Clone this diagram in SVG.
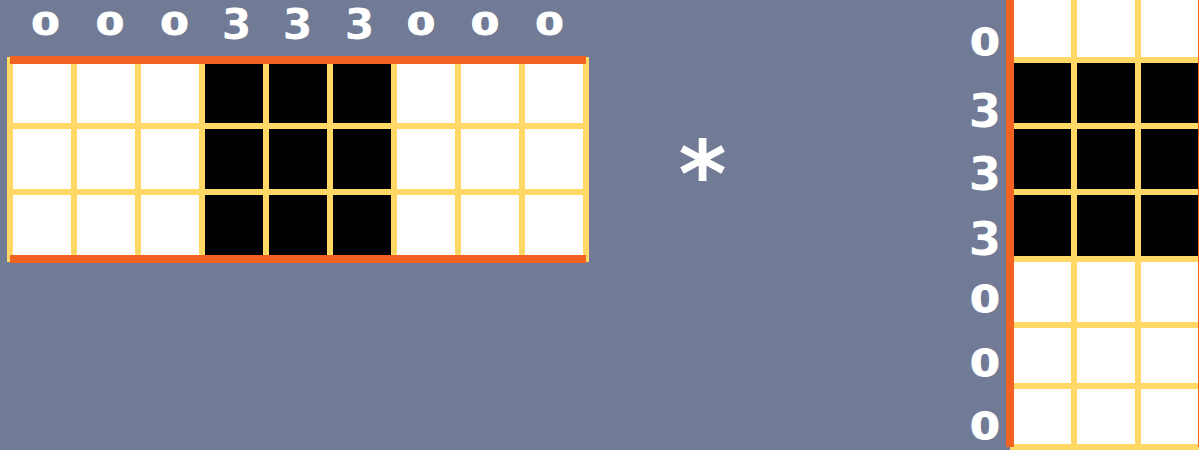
<svg xmlns="http://www.w3.org/2000/svg" width="1199" height="450" viewBox="0 0 1199 450">
<style>
.yl{stroke:#FFD865;stroke-width:6;fill:none}
.or{stroke:#F26322;stroke-width:8;fill:none}
.n{font-family:"DejaVu Sans",sans-serif;font-weight:bold;fill:#FFFFFF;text-anchor:middle}
.z{font-size:31.5px;stroke:#FFFFFF;stroke-width:1}
.t{font-size:42.5px}
.zr{font-size:37px;stroke:#FFFFFF;stroke-width:1}
.tr{font-size:46.5px}
</style>
<rect width="1199" height="450" fill="#717B96"/>
<g id="left-matrix">
<rect x="10" y="60" width="576" height="199" fill="#FFFFFF"/>
<rect x="202" y="60" width="192" height="199" fill="#000000"/>
<path class="yl" d="M10 57V262M74 57V262M138 57V262M202 57V262M266 57V262M330 57V262M394 57V262M458 57V262M522 57V262M586 57V262M10 126H586M10 192H586"/>
<path class="or" d="M10 60H586M10 259H586"/>
</g>
<g id="left-labels">
<text class="n z" transform="translate(45.5 35) scale(1.3 1)">0</text>
<text class="n z" transform="translate(110 35) scale(1.3 1)">0</text>
<text class="n z" transform="translate(174.5 35) scale(1.3 1)">0</text>
<text class="n t" x="236.5" y="39">3</text>
<text class="n t" x="297.5" y="39">3</text>
<text class="n t" x="359.5" y="39">3</text>
<text class="n z" transform="translate(421 35) scale(1.3 1)">0</text>
<text class="n z" transform="translate(485 35) scale(1.3 1)">0</text>
<text class="n z" transform="translate(549.5 35) scale(1.3 1)">0</text>
</g>
<g id="operator">
<text x="702.5" y="207" font-family="DejaVu Sans,sans-serif" font-size="92" font-weight="bold" fill="#FFFFFF" text-anchor="middle">*</text>
</g>
<g id="right-matrix">
<rect x="1010" y="0" width="189" height="447" fill="#FFFFFF"/>
<rect x="1010" y="60" width="189" height="199" fill="#000000"/>
<path class="yl" d="M1074 0V450M1138 0V450M1010 60H1199M1010 126H1199M1010 192H1199M1010 259H1199M1010 325H1199M1010 386H1199M1010 447H1199"/>
<path class="or" d="M1010 0V447M1202 0V447"/>
</g>
<g id="right-labels">
<text class="n zr" transform="translate(985 55) scale(1.16 1)">0</text>
<text class="n tr" x="985" y="127">3</text>
<text class="n tr" x="985" y="190">3</text>
<text class="n tr" x="985" y="255">3</text>
<text class="n zr" transform="translate(985 312) scale(1.16 1)">0</text>
<text class="n zr" transform="translate(985 376) scale(1.16 1)">0</text>
<text class="n zr" transform="translate(985 439) scale(1.16 1)">0</text>
</g>
</svg>
